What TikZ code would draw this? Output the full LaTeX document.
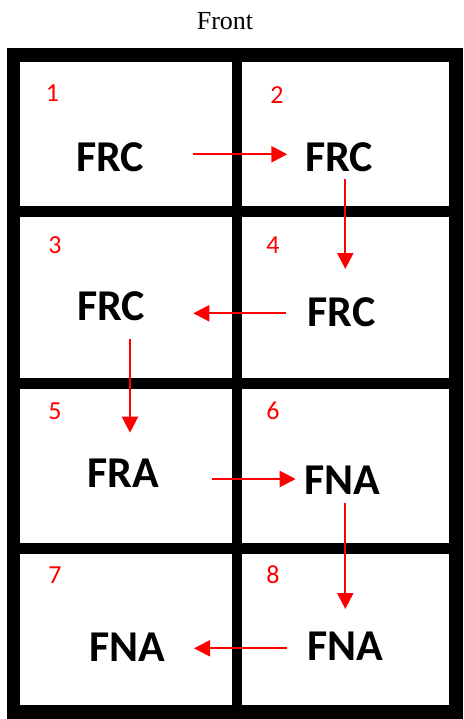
\documentclass[tikz,border=0pt]{standalone}
\usepackage{fontspec}
\setmainfont{Liberation Serif}
\newfontfamily\carlito{Carlito}
\usetikzlibrary{arrows.meta}
\begin{document}
\begin{tikzpicture}[x=1pt,y=-1pt,
  cellbox/.style={fill=white},
  lbl/.style={font=\carlito\bfseries\fontsize{44}{44}\selectfont, anchor=base, inner sep=0pt},
  num/.style={font=\carlito\fontsize{26}{26}\selectfont, text=red, anchor=base, inner sep=0pt},
  flow/.style={draw=red, line width=2.2pt, -{Triangle[length=16pt,width=16pt]}}]
\useasboundingbox (0,0) rectangle (463,719);
\node[font=\fontsize{26}{26}\selectfont, anchor=base, inner sep=0pt] (title) at (225,30) {Front};
% frame
\fill[black] (6.7,48.3) rectangle (463,718.7);
\fill[cellbox] (20,61.7) rectangle (231.7,206.3);
\fill[cellbox] (242.3,61.7) rectangle (449.3,206.3);
\fill[cellbox] (20,217.3) rectangle (231.7,378.3);
\fill[cellbox] (242.3,217.3) rectangle (449.3,378.3);
\fill[cellbox] (20,388.7) rectangle (231.7,543.3);
\fill[cellbox] (242.3,388.7) rectangle (449.3,543.3);
\fill[cellbox] (20,554) rectangle (231.7,705.3);
\fill[cellbox] (242.3,554) rectangle (449.3,705.3);
% numbers
\node[num] (n1) at (52.5,101.7) {1};
\node[num] (n2) at (277,103.3) {2};
\node[num] (n3) at (55,253.3) {3};
\node[num] (n4) at (273,253.3) {4};
\node[num] (n5) at (55,419.3) {5};
\node[num] (n6) at (273,419.3) {6};
\node[num] (n7) at (55,583.3) {7};
\node[num] (n8) at (273,583.3) {8};
% labels
\node[lbl] (c1) at (110,171.7) {FRC};
\node[lbl] (c2) at (339,171.7) {FRC};
\node[lbl] (c3) at (111.3,320.7) {FRC};
\node[lbl] (c4) at (341.7,326.7) {FRC};
\node[lbl] (c5) at (123,487.3) {FRA};
\node[lbl] (c6) at (342.5,494) {FNA};
\node[lbl] (c7) at (127.5,661.7) {FNA};
\node[lbl] (c8) at (345.5,660) {FNA};
% arrow ends
\coordinate (s12) at (192.7,154.3); \coordinate (t12) at (287.3,154.3);
\coordinate (s24) at (345.3,179);   \coordinate (t24) at (345.3,269);
\coordinate (s43) at (286,313.3);   \coordinate (t43) at (193.3,313.3);
\coordinate (s35) at (130,339);     \coordinate (t35) at (130,432.7);
\coordinate (s56) at (211.7,479);   \coordinate (t56) at (295.7,479);
\coordinate (s68) at (345.3,502.7); \coordinate (t68) at (345.3,609);
\coordinate (s87) at (286.7,648.3); \coordinate (t87) at (194,648.3);
\draw[flow] (s12) -- (t12);
\draw[flow] (s24) -- (t24);
\draw[flow] (s43) -- (t43);
\draw[flow] (s35) -- (t35);
\draw[flow] (s56) -- (t56);
\draw[flow] (s68) -- (t68);
\draw[flow] (s87) -- (t87);
\end{tikzpicture}
\end{document}
